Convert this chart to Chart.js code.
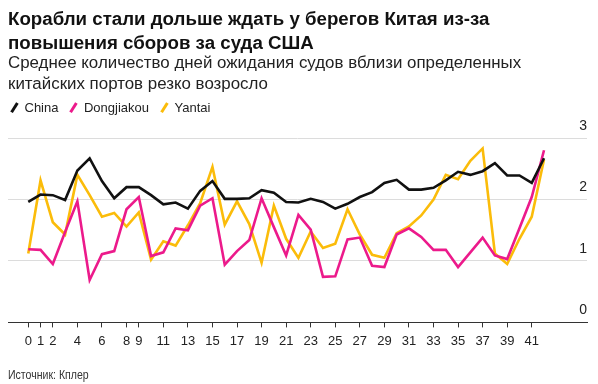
<!DOCTYPE html>
<html lang="ru">
<head>
<meta charset="utf-8">
<script src="https://cdn.jsdelivr.net/npm/chart.js@4.4.1/dist/chart.umd.min.js"></script>
<style>
  body { margin: 0; background: #fff; font-family: "Liberation Sans", Arial, sans-serif; color: #111; }
  #wrap { position: relative; width: 598px; height: 384px; overflow: hidden; }
  #wrap canvas { position: absolute; left: 0; top: 0; }
  .title { position: absolute; left: 8px; top: 7px; font-size: 18.7px; line-height: 24px; font-weight: bold; }
  .subtitle { position: absolute; left: 8px; top: 52px; font-size: 16.9px; line-height: 21px; color: #222; }
  .legend { position: absolute; left: 8px; top: 100px; font-size: 13px; line-height: 16px; white-space: nowrap; color: #222; }
  .legend .item { display: inline-block; margin-right: 9px; }
  .legend .mark { display: inline-block; width: 2.5px; height: 11px; margin: 0 9px 0 5px; transform: rotate(32deg); vertical-align: -1px; }
  .source { position: absolute; left: 8px; top: 368px; font-size: 12px; color: #333; transform: scaleX(0.88); transform-origin: left center; }
</style>
</head>
<body>
<div id="wrap">
  <canvas id="waitChart" width="598" height="384"></canvas>
  <div class="title">Корабли стали дольше ждать у берегов Китая из-за<br>повышения сборов за суда США</div>
  <div class="subtitle">Среднее количество дней ожидания судов вблизи определенных<br>китайских портов резко возросло</div>
  <div class="legend" id="legend"></div>
  <div class="source">Источник: Кплер</div>
</div>
<script>
// Данные (дни ожидания)
const weeks = [0, 1, 2, 3, 4, 5, 6, 7, 8, 9, 10, 11, 12, 13, 14, 15, 16, 17, 18, 19, 20,
  21, 22, 23, 24, 25, 26, 27, 28, 29, 30, 31, 32, 33, 34, 35, 36, 37, 38, 39, 40, 41, 42];
const xTickValues = [0, 1, 2, 4, 6, 8, 9, 11, 13, 15, 17, 19, 21, 23, 25, 27, 29, 31, 33, 35, 37, 39, 41];
const yTickValues = [0, 1, 2, 3];

const china = [1.96, 2.08, 2.07, 1.99, 2.47, 2.67, 2.30, 2.02, 2.20, 2.20,
  2.07, 1.92, 1.95, 1.85, 2.14, 2.30, 2.01, 2.01, 2.02, 2.15,
  2.11, 1.96, 1.95, 2.01, 1.96, 1.85, 1.93, 2.04, 2.12, 2.27,
  2.32, 2.16, 2.16, 2.19, 2.31, 2.45, 2.40, 2.46, 2.59, 2.39,
  2.39, 2.27, 2.67];
const dongjiakou = [1.19, 1.18, 0.95, 1.47, 1.97, 0.69, 1.11, 1.16, 1.84, 2.04,
  1.08, 1.14, 1.53, 1.50, 1.90, 2.02, 0.94, 1.16, 1.34, 2.02,
  1.55, 1.09, 1.75, 1.51, 0.74, 0.75, 1.35, 1.38, 0.92, 0.90,
  1.43, 1.53, 1.39, 1.18, 1.18, 0.90, 1.14, 1.38, 1.09, 1.03,
  1.53, 2.04, 2.80];
const yantai = [1.12, 2.31, 1.63, 1.43, 2.40, 2.07, 1.72, 1.78, 1.56, 1.79,
  1.02, 1.32, 1.25, 1.58, 1.94, 2.53, 1.59, 1.97, 1.60, 0.97,
  1.90, 1.36, 1.05, 1.48, 1.21, 1.28, 1.84, 1.43, 1.10, 1.05,
  1.45, 1.56, 1.74, 2.00, 2.40, 2.33, 2.63, 2.83, 1.12, 0.95,
  1.36, 1.72, 2.65];

const seriesNames = ['China', 'Dongjiakou', 'Yantai'];
const seriesColors = ['#111111', '#ec1a8b', '#fbbc0a'];

function toPoints(values) {
  return values.map((v, i) => ({ x: weeks[i], y: v }));
}

document.addEventListener('DOMContentLoaded', function() {
  // легенда
  const legend = document.getElementById('legend');
  seriesNames.forEach((name, i) => {
    const item = document.createElement('span');
    item.className = 'item';
    item.innerHTML = '<span class="mark" style="background:' + seriesColors[i] + '"></span>' + name;
    legend.appendChild(item);
  });

  const ctx = document.getElementById('waitChart').getContext('2d');
  const waitChart = new Chart(ctx, {
    type: 'line',
    data: {
      datasets: [
        { label: seriesNames[0], data: toPoints(china) },
        { label: seriesNames[1], data: toPoints(dongjiakou) },
        { label: seriesNames[2], data: toPoints(yantai) }
      ].map((ds, i) => Object.assign(ds, {
        borderColor: seriesColors[i],
        backgroundColor: seriesColors[i],
        borderWidth: 2.6,
        pointRadius: 0,
        tension: 0,
        fill: false
      }))
    },
    options: {
      responsive: false,
      animation: false,
      layout: { padding: { left: 8, right: 11, top: 138, bottom: 29 } },
      scales: {
        x: {
          type: 'linear',
          min: -1.65,
          max: 45.5,
          afterBuildTicks: function(scale) {
            scale.ticks = xTickValues.map(v => ({ value: v }));
          },
          grid: {
            display: true,
            drawOnChartArea: false,
            drawTicks: true,
            tickLength: 5,
            color: '#333'
          },
          border: { display: true, color: '#333', width: 1 },
          ticks: {
            autoSkip: false,
            maxRotation: 0,
            padding: 6,
            color: '#222',
            font: { family: '"Liberation Sans", Arial, sans-serif', size: 13 },
            callback: v => String(v)
          }
        },
        y: {
          position: 'right',
          min: 0,
          max: 3,
          afterBuildTicks: function(scale) {
            scale.ticks = yTickValues.map(v => ({ value: v }));
          },
          grid: {
            drawTicks: false,
            color: c => c.tick && c.tick.value === 0 ? 'rgba(0,0,0,0)' : '#dcdcdc'
          },
          border: { display: false },
          ticks: {
            mirror: true,
            padding: 0,
            labelOffset: -12,
            color: '#222',
            font: { family: '"Liberation Sans", Arial, sans-serif', size: 14 }
          }
        }
      },
      plugins: {
        legend: { display: false },
        tooltip: { enabled: false }
      }
    }
  });
});
</script>
</body>
</html>
